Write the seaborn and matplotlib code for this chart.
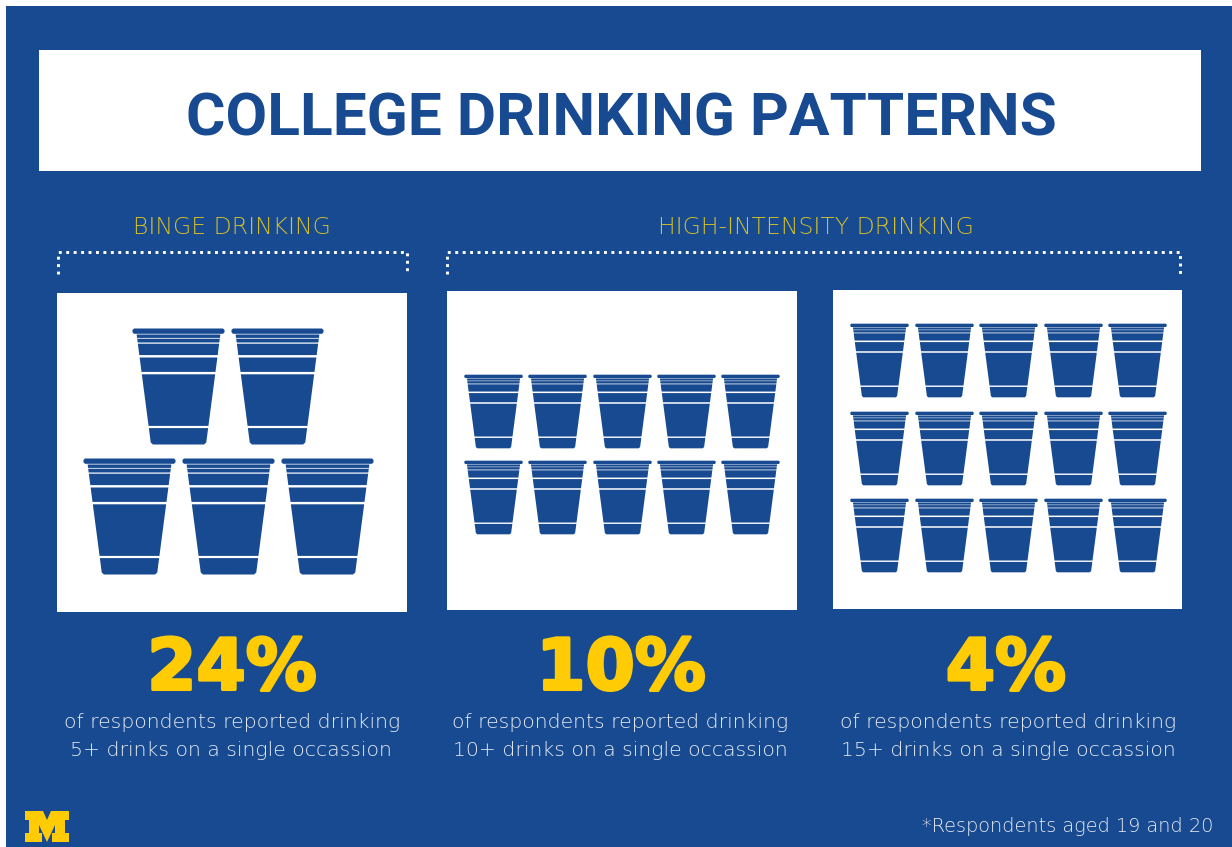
import numpy as np
import pandas as pd
import matplotlib
matplotlib.use("Agg")
import matplotlib.pyplot as plt
import matplotlib.patheffects as pe
from matplotlib.path import Path
from matplotlib.patches import Rectangle, Polygon
import seaborn as sns

# Survey figures
title = "COLLEGE DRINKING PATTERNS"
group_names = ["BINGE DRINKING", "HIGH-INTENSITY DRINKING"]
percentages = [24, 10, 4]
drink_counts = [5, 10, 15]
cups_per_row = [[2, 3], [5, 5], [5, 5, 5]]
footnote = "*Respondents aged 19 and 20"

BLUE = "#174a90"
YELLOW = "#ffcb05"
GROUP_YELLOW = "#d4bf28"
CAPTION = "#e8ecf3"

sns.set_theme(style="white")
plt.rcParams["font.family"] = ["Roboto", "DejaVu Sans"]


def cup_marker():
    """Party-cup outline: a rim and body bands separated by thin gaps."""
    h_top, h_bot = 42.0, 27.5

    def half(t):
        return h_top + (h_bot - h_top) * (t - 5) / 111

    bands = [(6.0, 9.4), (10.2, 14.0), (15.2, 26.6), (29.0, 43.4), (45.8, 97.4), (99.6, 116)]
    verts, codes = [], []

    def add(poly):
        verts.extend(poly + [poly[0]])
        codes.extend([Path.MOVETO] + [Path.LINETO] * (len(poly) - 1) + [Path.CLOSEPOLY])

    add([(-44.5, 0), (44.5, 0), (46, 1.5), (46, 3.8), (44.5, 5.3), (-44.5, 5.3), (-46, 3.8), (-46, 1.5)])
    for top, bot in bands:
        if bot == 116:
            add([(-half(top), top), (half(top), top), (half(bot - 2), bot - 2), (half(bot) - 2, bot),
                 (-half(bot) + 2, bot), (-half(bot - 2), bot - 2)])
        else:
            add([(-half(top), top), (half(top), top), (half(bot), bot), (-half(bot), bot)])
    xy = np.array(verts)
    xy[:, 1] = 58 - xy[:, 1]
    return Path(xy, codes)


fig = plt.figure(figsize=(12.32, 8.47), dpi=100, facecolor="white")
ax = fig.add_axes([0, 0, 1, 1])
ax.set_xlim(0, 1232)
ax.set_ylim(847, 0)
ax.axis("off")

ax.add_patch(Rectangle((6, 6), 1226, 841, fc=BLUE, ec="none", zorder=0))
ax.add_patch(Rectangle((39, 50), 1162, 121, fc="white", ec="none", zorder=1))
ax.text(621, 114, title, color=BLUE, fontsize=43.5, fontweight="bold", ha="center",
        va="center_baseline", zorder=3)

# Group headings with dotted brackets
heading_x = [232, 816]
bracket_spans = [(58, 407), (447, 1180)]
for name, cx, (x0, x1) in zip(group_names, heading_x, bracket_spans):
    ax.text(cx, 227, name, color=GROUP_YELLOW, fontsize=16.9, family=["DejaVu Sans"],
            fontweight="ultralight", ha="center", va="center", zorder=3)
    ax.plot([x0, x0, x1, x1], [274, 252, 252, 274], color="white", lw=2.1,
            ls=(0, (1, 1.55)), dash_capstyle="butt", zorder=3)

# One panel per drinking threshold: white card, cups, percentage and caption
panels = [(57, 293, 350, 319), (447, 291, 350, 319), (833, 290, 349, 319)]
row_y = [[386, 516], [411.5, 497.5], [360, 448, 535]]
pitch = [99, 64.2, 64.5]
scale = [1.0, 0.635, 0.635]
center_x = [228, 621.5, 1008]
text_x = [232, 621, 1006]
caption_x = [232, 620, 1008]
marker = cup_marker()
heavier = [pe.withStroke(linewidth=2.2, foreground=YELLOW)]

for i, (px, py, pw, ph) in enumerate(panels):
    ax.add_patch(Rectangle((px, py), pw, ph, fc="white", ec="none", zorder=1))
    rows = []
    for n, y in zip(cups_per_row[i], row_y[i]):
        offsets = (np.arange(n) - (n - 1) / 2) * pitch[i]
        rows.append(pd.DataFrame({"x": center_x[i] + offsets, "y": y}))
    cups = pd.concat(rows, ignore_index=True)
    if i == 0:
        cups.loc[cups.index[:2], "x"] -= 0.5
    sns.scatterplot(data=cups, x="x", y="y", marker=marker, s=(116 * scale[i] * 0.72) ** 2,
                    color=BLUE, linewidth=0, legend=False, ax=ax, zorder=2, clip_on=False)
    ax.text(text_x[i], 670, f"{percentages[i]}%", color=YELLOW, fontsize=51, fontweight="bold",
            family=["DejaVu Sans"], ha="center", va="center", zorder=3, path_effects=heavier)
    ax.text(caption_x[i], 722, "of respondents reported drinking", color=CAPTION, fontsize=14.7,
            family=["DejaVu Sans"], fontweight="ultralight", ha="center", va="center", zorder=3)
    ax.text(caption_x[i] - (1 if i == 0 else 0), 750, f"{drink_counts[i]}+ drinks on a single occassion",
            color=CAPTION, fontsize=14.7, family=["DejaVu Sans"], fontweight="ultralight",
            ha="center", va="center", zorder=3)

# Block M mark
block_m = [(25, 811), (43, 811), (47, 820), (51, 811), (69, 811), (69, 820), (65, 820), (65, 833),
           (69, 833), (69, 842), (52, 842), (52, 833), (55, 833), (55, 825), (47, 842), (39, 825),
           (39, 833), (42, 833), (42, 842), (25, 842), (25, 833), (29, 833), (29, 820), (25, 820)]
ax.add_patch(Polygon(block_m, closed=True, fc=YELLOW, ec="none", zorder=3))

ax.text(1213, 827, footnote, color=CAPTION, fontsize=13.9, family=["DejaVu Sans"],
        fontweight="ultralight", ha="right", va="center", zorder=3)

fig.savefig("out.png", dpi=100)
